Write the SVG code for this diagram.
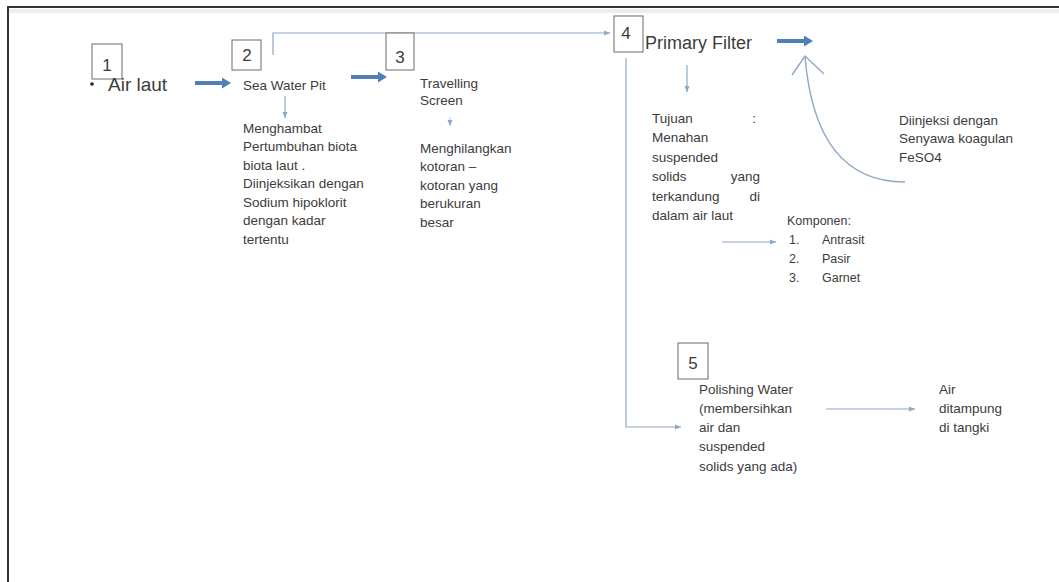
<svg xmlns="http://www.w3.org/2000/svg" width="1059" height="582" viewBox="0 0 1059 582">
<style>
  text { font-family: "Liberation Sans", Arial, sans-serif; fill: #3c3c3c; }
  .sm { font-size: 13.5px; }
  .xs { font-size: 12.5px; }
  .num { font-size: 17px; text-anchor: middle; }
  .big { font-size: 18px; }
  .box { fill: #ffffff; stroke: #6a6a6a; stroke-width: 1; }
  .thin { fill: none; stroke: #8ea6c8; stroke-width: 1.2; }
  .thick { stroke: #4f7fb8; stroke-width: 4; }
  .curve { fill: none; stroke: #8fa6c9; stroke-width: 1.4; }
</style>
<defs>
  <marker id="hThick" markerUnits="userSpaceOnUse" markerWidth="10" markerHeight="11" refX="2" refY="5.5" orient="auto">
    <path d="M0,0 L9,5.5 L0,11 z" fill="#4f7fb8"/>
  </marker>
  <marker id="hThin" markerUnits="userSpaceOnUse" markerWidth="6" markerHeight="6" refX="6" refY="3" orient="auto">
    <path d="M0,0.5 L6,3 L0,5.5 z" fill="#8ea6c8"/>
  </marker>
</defs>
<rect x="0" y="0" width="1059" height="582" fill="#ffffff"/>
<rect x="9" y="9" width="1050" height="4" fill="#eeeeee"/>
<line x1="8" y1="7" x2="1059" y2="7" stroke="#333333" stroke-width="2"/>
<line x1="8" y1="6" x2="8" y2="582" stroke="#333333" stroke-width="2"/>

<g id="connectors">
  <line class="thick" x1="195" y1="83" x2="224" y2="83" marker-end="url(#hThick)"/>
  <line class="thick" x1="351" y1="77" x2="380" y2="77" marker-end="url(#hThick)"/>
  <line class="thick" x1="777" y1="41" x2="806" y2="41" marker-end="url(#hThick)"/>
  <polyline class="thin" points="273,55 273,33 610,33" marker-end="url(#hThin)"/>
  <line class="thin" x1="285" y1="96" x2="285" y2="118" marker-end="url(#hThin)"/>
  <line class="thin" x1="450" y1="117" x2="450" y2="126" stroke-opacity="0.6" marker-end="url(#hThin)"/>
  <line class="thin" x1="687" y1="65" x2="687" y2="92" marker-end="url(#hThin)"/>
  <polyline class="thin" points="626,58 626,427 681,427" stroke-width="1.5" marker-end="url(#hThin)"/>
  <line class="thin" x1="722" y1="242" x2="776" y2="242" marker-end="url(#hThin)"/>
  <line class="thin" x1="826" y1="409" x2="915" y2="409" marker-end="url(#hThin)"/>
  <path class="curve" d="M905,182 Q815,182 805,56"/>
  <polyline class="curve" points="792,75 805,56 824,74"/>
</g>

<g id="node1">
  <rect class="box" x="92" y="44" width="30" height="35"/>
  <text class="num" x="107" y="71">1</text>
  <circle cx="92" cy="84" r="1.8" fill="#222222"/>
  <text x="108" y="91" font-size="19">Air laut</text>
</g>

<g id="node2">
  <rect class="box" x="232" y="40" width="29" height="30"/>
  <text class="num" x="247" y="61">2</text>
  <text class="sm" x="243" y="90">Sea Water Pit</text>
</g>

<g id="node2-desc">
  <text class="sm" x="243" y="132.5">Menghambat</text>
  <text class="sm" x="243" y="151">Pertumbuhan biota</text>
  <text class="sm" x="243" y="169.5">biota laut .</text>
  <text class="sm" x="243" y="188">Diinjeksikan dengan</text>
  <text class="sm" x="243" y="206.5">Sodium hipoklorit</text>
  <text class="sm" x="243" y="225">dengan kadar</text>
  <text class="sm" x="243" y="243.5">tertentu</text>
</g>

<g id="node3">
  <rect class="box" x="386" y="33" width="28" height="37"/>
  <text class="num" x="400" y="63">3</text>
  <text class="sm" x="420" y="87.5">Travelling</text>
  <text class="sm" x="420" y="104.5">Screen</text>
</g>

<g id="node3-desc">
  <text class="sm" x="420" y="152.5">Menghilangkan</text>
  <text class="sm" x="420" y="171">kotoran –</text>
  <text class="sm" x="420" y="189.5">kotoran yang</text>
  <text class="sm" x="420" y="208">berukuran</text>
  <text class="sm" x="420" y="226.5">besar</text>
</g>

<g id="node4">
  <rect class="box" x="614" y="16" width="29" height="36"/>
  <text class="num" x="626" y="39">4</text>
  <text class="big" x="645" y="49">Primary Filter</text>
</g>

<g id="node4-desc">
  <text class="sm" x="652" y="122.5">Tujuan</text>
  <text class="sm" x="756" y="122.5" text-anchor="end">:</text>
  <text class="sm" x="652" y="142">Menahan</text>
  <text class="sm" x="652" y="161.5">suspended</text>
  <text class="sm" x="652" y="181">solids</text>
  <text class="sm" x="760" y="181" text-anchor="end">yang</text>
  <text class="sm" x="652" y="200.5">terkandung</text>
  <text class="sm" x="760" y="200.5" text-anchor="end">di</text>
  <text class="sm" x="652" y="220">dalam air laut</text>
</g>

<g id="komponen">
  <text class="xs" x="787" y="224.5">Komponen:</text>
  <text class="xs" x="789" y="243.5">1.</text>
  <text class="xs" x="822" y="243.5">Antrasit</text>
  <text class="xs" x="789" y="262.5">2.</text>
  <text class="xs" x="822" y="262.5">Pasir</text>
  <text class="xs" x="789" y="281.5">3.</text>
  <text class="xs" x="822" y="281.5">Garnet</text>
</g>

<g id="injeksi">
  <text class="sm" x="899" y="124.5">Diinjeksi dengan</text>
  <text class="sm" x="899" y="142.5">Senyawa koagulan</text>
  <text class="sm" x="899" y="161.5">FeSO4</text>
</g>

<g id="node5">
  <rect class="box" x="678" y="343" width="30" height="36"/>
  <text class="num" x="693" y="369">5</text>
  <text class="sm" x="699" y="393.5">Polishing Water</text>
  <text class="sm" x="699" y="412.5">(membersihkan</text>
  <text class="sm" x="699" y="431.5">air dan</text>
  <text class="sm" x="699" y="451">suspended</text>
  <text class="sm" x="699" y="470.5">solids yang ada)</text>
</g>

<g id="tank">
  <text class="sm" x="939" y="393.5">Air</text>
  <text class="sm" x="939" y="413">ditampung</text>
  <text class="sm" x="939" y="431.5">di tangki</text>
</g>
</svg>
